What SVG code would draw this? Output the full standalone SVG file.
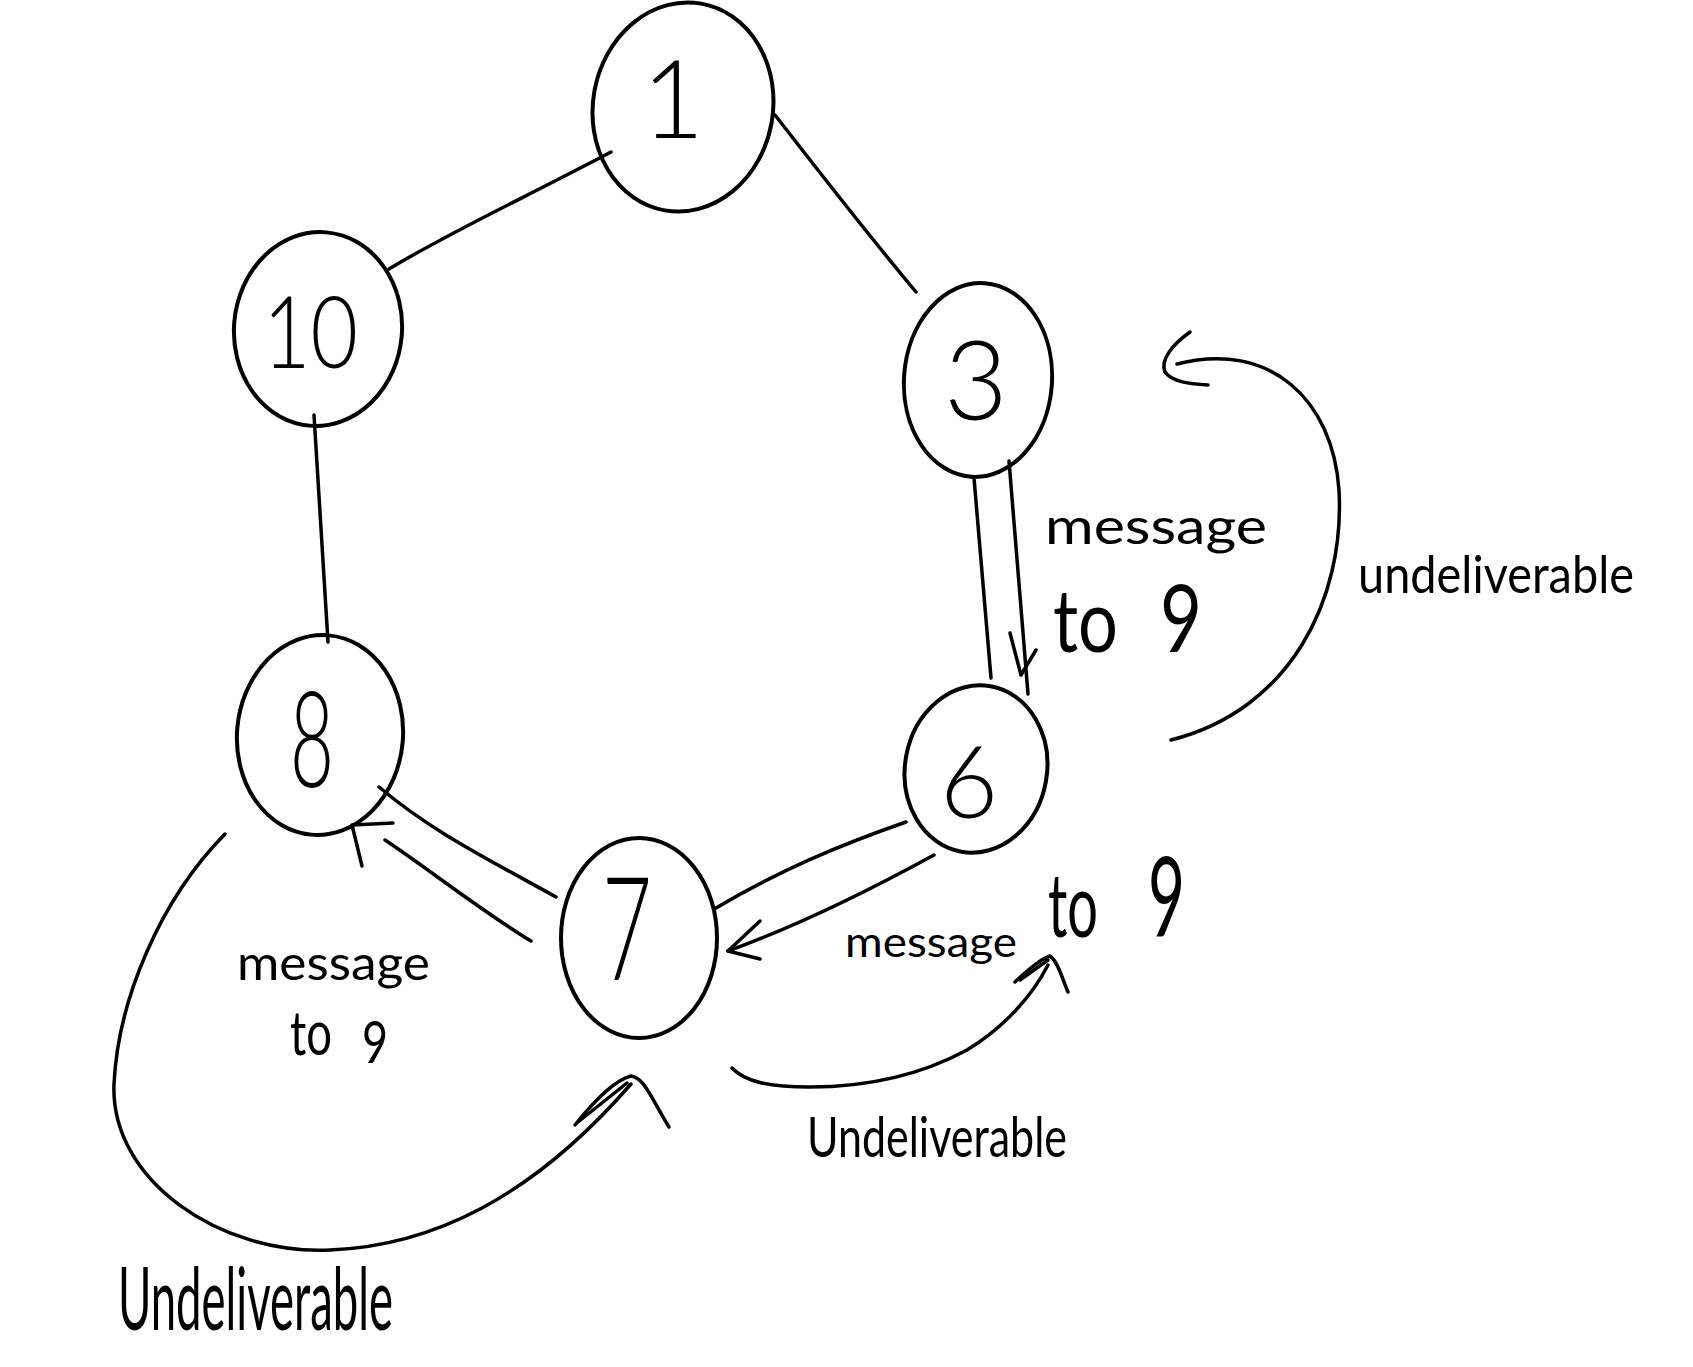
<svg xmlns="http://www.w3.org/2000/svg" width="1693" height="1367" viewBox="0 0 1693 1367">
<style>
.n{fill:none;stroke:#000;stroke-width:4;stroke-linecap:round;stroke-linejoin:round}
.c{fill:none;stroke:#000;stroke-width:3.5;stroke-linecap:round;stroke-linejoin:round}
.d{font-family:Lato,"Liberation Sans",sans-serif;font-weight:300;fill:#000}
.t{font-family:Lato,"Liberation Sans",sans-serif;font-weight:400;fill:#000}
</style>
<rect width="1693" height="1367" fill="#fff"/>
<g id="connectors">
<path class="c" d="M611,152 C520,200 450,232 389,269"/>
<path class="c" d="M775,115 C810,160 860,225 916,292"/>
<path class="c" d="M314,415 L328,642"/>
<path class="c" d="M974,478 L991,678"/>
<path class="c" d="M1009,461 L1028,694"/>
<path class="c" d="M1010,633 L1021,675 L1036,650"/>
<path class="c" d="M379,787 C430,830 480,855 556,897"/>
<path class="c" d="M531,941 C480,910 430,870 385,840"/>
<path class="c" d="M393,823 L352,825 L362,866"/>
<path class="c" d="M716,908 C780,870 840,845 906,822"/>
<path class="c" d="M934,855 C870,890 800,925 728,951"/>
<path class="c" d="M760,921 L728,951 L760,959"/>
<path class="c" d="M1171,740 C1290,710 1345,600 1339,490 C1333,400 1270,340 1177,364"/>
<path class="c" d="M1190,332 C1172,345 1160,360 1165,372 C1172,382 1190,384 1208,385"/>
<path class="c" d="M732,1068 C745,1082 770,1087 810,1087 C880,1087 930,1070 967,1050 C1000,1030 1030,1000 1048,965"/>
<path class="c" d="M1015,982 C1030,968 1042,958 1050,956 C1058,962 1062,978 1068,992"/>
<path class="c" d="M1020,980 L1048,960"/>
<path class="c" d="M225,834 C160,900 118,1000 114,1084 C110,1180 220,1255 330,1250 C430,1246 530,1200 631,1084"/>
<path class="c" d="M575,1125 C595,1100 615,1080 631,1076 C645,1078 652,1100 669,1127"/>
<path class="c" d="M578,1122 L627,1083"/>
</g>
<g id="node-1">
<ellipse class="n" cx="683" cy="107" rx="90" ry="105" transform="rotate(10 683 107)"/>
<text class="d" x="673" y="138" font-size="108" text-anchor="middle">1</text>
</g>
<g id="node-10">
<ellipse class="n" cx="318" cy="329" rx="84" ry="97" transform="rotate(5 318 329)"/>
<text class="d" x="263" y="368" font-size="100" textLength="95" lengthAdjust="spacingAndGlyphs">10</text>
</g>
<g id="node-3">
<ellipse class="n" cx="978" cy="380" rx="74" ry="97" transform="rotate(4 978 380)"/>
<text class="d" x="976" y="420" font-size="110" text-anchor="middle">3</text>
</g>
<g id="node-8">
<ellipse class="n" cx="320" cy="735" rx="83" ry="100" transform="rotate(5 320 735)"/>
<text class="d" x="290" y="787" font-size="135" textLength="44" lengthAdjust="spacingAndGlyphs">8</text>
</g>
<g id="node-6">
<ellipse class="n" cx="976" cy="769" rx="71" ry="84" transform="rotate(10 976 769)"/>
<text class="d" x="969" y="818" font-size="100" text-anchor="middle">6</text>
</g>
<g id="node-7">
<ellipse class="n" cx="639" cy="938" rx="78" ry="100"/>
<text class="d" x="602" y="980" font-size="145" textLength="50" lengthAdjust="spacingAndGlyphs">7</text>
</g>
<g id="labels">
<text class="t" x="1045" y="544" font-size="50" textLength="222" lengthAdjust="spacingAndGlyphs">message</text>
<text class="t" x="1053" y="652" font-size="88" textLength="65" lengthAdjust="spacingAndGlyphs">to</text>
<text class="t" x="1160" y="652" font-size="94" textLength="42" lengthAdjust="spacingAndGlyphs">9</text>
<text class="t" x="1358" y="593" font-size="52" textLength="276" lengthAdjust="spacingAndGlyphs">undeliverable</text>
<text class="t" x="845" y="957" font-size="42" textLength="172" lengthAdjust="spacingAndGlyphs">message</text>
<text class="t" x="1048" y="937" font-size="90" textLength="50" lengthAdjust="spacingAndGlyphs">to</text>
<text class="t" x="1148" y="937" font-size="110" textLength="37" lengthAdjust="spacingAndGlyphs">9</text>
<text class="t" x="807" y="1157" font-size="56" textLength="260" lengthAdjust="spacingAndGlyphs">Undeliverable</text>
<text class="t" x="237" y="980" font-size="48" textLength="193" lengthAdjust="spacingAndGlyphs">message</text>
<text class="t" x="290" y="1055" font-size="62" textLength="42" lengthAdjust="spacingAndGlyphs">to</text>
<text class="t" x="362" y="1063" font-size="58" textLength="26" lengthAdjust="spacingAndGlyphs">9</text>
<text class="t" x="118" y="1330" font-size="88" textLength="275" lengthAdjust="spacingAndGlyphs">Undeliverable</text>
</g>
</svg>
